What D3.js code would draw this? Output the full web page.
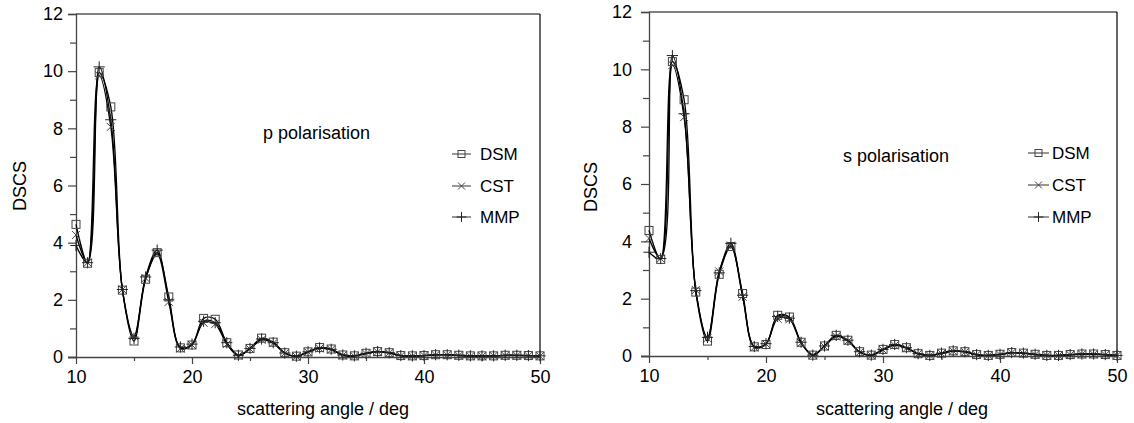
<!DOCTYPE html>
<html><head><meta charset="utf-8">
<script src="https://cdn.jsdelivr.net/npm/d3@7"></script>
<style>body{margin:0;background:#fff}svg{display:block;font-family:"Liberation Sans",Arial,sans-serif}</style>
</head><body>
<svg id="c" width="1134" height="423"></svg>
<script>
const angles = [10,11,12,13,14,15,16,17,18,19,20,21,22,23,24,25,26,27,28,29,30,31,32,33,34,35,36,37,38,39,40,41,42,43,44,45,46,47,48,49,50];
const xTicks = [10,20,30,40,50];
const yTicks = [0,2,4,6,8,10,12];
const seriesNames = ["DSM","CST","MMP"];

const DSM_p = [4.64,3.28,9.95,8.75,2.34,0.56,2.72,3.65,2.10,0.32,0.42,1.35,1.32,0.50,0.07,0.30,0.66,0.52,0.15,0.03,0.18,0.33,0.28,0.07,0.04,0.13,0.19,0.15,0.05,0.04,0.05,0.08,0.08,0.06,0.04,0.04,0.04,0.06,0.06,0.05,0.04];
const CST_p = [4.27,3.30,9.85,8.05,2.36,0.73,2.76,3.60,1.93,0.30,0.42,1.20,1.15,0.45,0.05,0.28,0.60,0.48,0.13,0.02,0.17,0.30,0.26,0.06,0.03,0.12,0.18,0.14,0.04,0.03,0.05,0.07,0.07,0.05,0.03,0.03,0.04,0.05,0.05,0.04,0.03];
const MMP_p = [3.90,3.30,10.15,8.30,2.36,0.65,2.80,3.74,2.00,0.35,0.45,1.25,1.20,0.50,0.06,0.30,0.63,0.50,0.14,0.03,0.18,0.32,0.27,0.07,0.04,0.13,0.19,0.15,0.05,0.04,0.05,0.08,0.08,0.06,0.04,0.04,0.04,0.06,0.06,0.05,0.04];

const DSM_s = [4.38,3.37,10.27,8.94,2.23,0.52,2.85,3.82,2.18,0.32,0.40,1.42,1.36,0.48,0.03,0.35,0.72,0.55,0.15,0.03,0.23,0.40,0.29,0.08,0.02,0.10,0.18,0.15,0.05,0.02,0.06,0.12,0.10,0.06,0.02,0.02,0.05,0.07,0.07,0.05,0.02];
const CST_s = [4.10,3.40,10.15,8.33,2.30,0.62,2.95,3.85,2.07,0.30,0.42,1.30,1.28,0.45,0.03,0.33,0.68,0.52,0.13,0.02,0.21,0.37,0.27,0.07,0.02,0.09,0.17,0.14,0.04,0.02,0.05,0.11,0.09,0.05,0.02,0.02,0.04,0.06,0.06,0.04,0.02];
const MMP_s = [3.62,3.40,10.48,8.45,2.28,0.65,2.90,3.93,2.12,0.33,0.43,1.38,1.32,0.48,0.03,0.35,0.72,0.55,0.15,0.03,0.23,0.40,0.29,0.08,0.02,0.10,0.18,0.15,0.05,0.02,0.06,0.12,0.10,0.06,0.02,0.02,0.05,0.07,0.07,0.05,0.02];

const svg = d3.select("#c");

function marker(g, type, x, y, s) {
  const col = "#444";
  if (type === "DSM") {
    g.append("rect").attr("x", x - s/2).attr("y", y - s/2).attr("width", s).attr("height", s)
      .attr("fill", "none").attr("stroke", col).attr("stroke-width", 1);
  } else if (type === "CST") {
    const h = s/2;
    g.append("path").attr("d", `M${x-h},${y-h}L${x+h},${y+h}M${x-h},${y+h}L${x+h},${y-h}`)
      .attr("stroke", col).attr("stroke-width", 1).attr("fill", "none");
  } else {
    const h = s*0.7;
    g.append("path").attr("d", `M${x-h},${y}L${x+h},${y}M${x},${y-h}L${x},${y+h}`)
      .attr("stroke", "#222").attr("stroke-width", 1).attr("fill", "none");
  }
}

function chart(cfg) {
  const x = d3.scaleLinear().domain([10,50]).range([cfg.x0, cfg.x1]);
  const y = d3.scaleLinear().domain([0,12]).range([cfg.y0, cfg.y1]);
  const g = svg.append("g");
  // frame top and right
  g.append("line").attr("x1", cfg.x0).attr("x2", cfg.x1).attr("y1", cfg.y1).attr("y2", cfg.y1).attr("stroke", "#000").attr("stroke-width", 1.2);
  g.append("line").attr("x1", cfg.x1).attr("x2", cfg.x1).attr("y1", cfg.y1).attr("y2", cfg.y0).attr("stroke", "#000").attr("stroke-width", 1.2);
  // y axis
  const ya = g.append("g").attr("transform", `translate(${cfg.x0},0)`)
    .call(d3.axisLeft(y).tickValues(yTicks).tickSize(8).tickPadding(cfg.ypad).tickFormat(d3.format("d")));
  ya.select(".domain").attr("stroke", "#444").attr("stroke-width", 1.3);
  ya.selectAll(".tick line").attr("stroke", "#444").attr("stroke-width", 1.2);
  ya.selectAll("text").attr("font-size", 18).attr("fill", "#000").attr("font-family", "Liberation Sans, Arial, sans-serif");
  const yMinor = g.append("g").attr("transform", `translate(${cfg.x0},0)`)
    .call(d3.axisLeft(y).tickValues([1,3,5,7,9,11]).tickSize(6).tickFormat(""));
  yMinor.select(".domain").remove();
  yMinor.selectAll(".tick line").attr("stroke", "#444").attr("stroke-width", 1.2);
  // x axis
  const xa = g.append("g").attr("transform", `translate(0,${cfg.y0})`)
    .call(d3.axisBottom(x).tickValues(xTicks).tickSize(7).tickPadding(6).tickFormat(d3.format("d")));
  xa.select(".domain").attr("d", `M${cfg.x0-8},0.5H${cfg.x1}`).attr("stroke", "#444").attr("stroke-width", 1.3);
  xa.selectAll(".tick line").attr("stroke", "#444").attr("stroke-width", 1.2);
  xa.selectAll("text").attr("font-size", 18).attr("fill", "#000").attr("font-family", "Liberation Sans, Arial, sans-serif");
  const xMinor = g.append("g").attr("transform", `translate(0,${cfg.y0})`)
    .call(d3.axisBottom(x).tickValues([15,25,35,45]).tickSize(4).tickFormat(""));
  xMinor.select(".domain").remove();
  xMinor.selectAll(".tick line").attr("stroke", "#444").attr("stroke-width", 1.2);

  // labels
  g.append("text").attr("transform", `translate(${cfg.ylabX},${cfg.ylabY}) rotate(-90)`)
    .attr("text-anchor", "middle").attr("font-size", 18).text("DSCS");
  g.append("text").attr("x", cfg.xlabX).attr("y", 415).attr("text-anchor", "middle").attr("font-size", 18)
    .text("scattering angle / deg");
  g.append("text").attr("x", cfg.titleX).attr("y", cfg.titleY).attr("font-size", 18).text(cfg.title);

  // lines
  const line = d3.line().x((d,i) => x(angles[i])).y(d => y(d)).curve(d3.curveCatmullRom.alpha(0.5));
  cfg.series.forEach(s => {
    g.append("path").attr("d", line(s)).attr("fill", "none").attr("stroke", "#000").attr("stroke-width", 1.3);
  });
  // markers
  const mg = g.append("g");
  cfg.series.forEach((s, k) => {
    s.forEach((v, i) => marker(mg, seriesNames[k], x(angles[i]), y(v), 8));
  });
  // legend
  const lg = g.append("g");
  seriesNames.forEach((n, k) => {
    const ly = cfg.legY[k];
    lg.append("line").attr("x1", cfg.legX).attr("x2", cfg.legX + cfg.legW).attr("y1", ly).attr("y2", ly).attr("stroke", "#333").attr("stroke-width", 1);
    marker(lg, n, cfg.legX + cfg.legW/2, ly, 7);
    lg.append("text").attr("x", cfg.legTX).attr("y", ly + 6).attr("font-size", 17).text(n);
  });
}

chart({x0: 76, x1: 540, y0: 357, y1: 14, ypad: 5, series: [DSM_p, CST_p, MMP_p],
  ylabX: 26, ylabY: 186, xlabX: 323, title: "p polarisation", titleX: 263, titleY: 139,
  legX: 452, legW: 19, legTX: 480, legY: [154, 186, 217]});
chart({x0: 649, x1: 1117, y0: 356, y1: 12, ypad: 9, series: [DSM_s, CST_s, MMP_s],
  ylabX: 597, ylabY: 187, xlabX: 902, title: "s polarisation", titleX: 843, titleY: 162,
  legX: 1028, legW: 21, legTX: 1052, legY: [153, 185, 217]});
</script>
</body></html>
